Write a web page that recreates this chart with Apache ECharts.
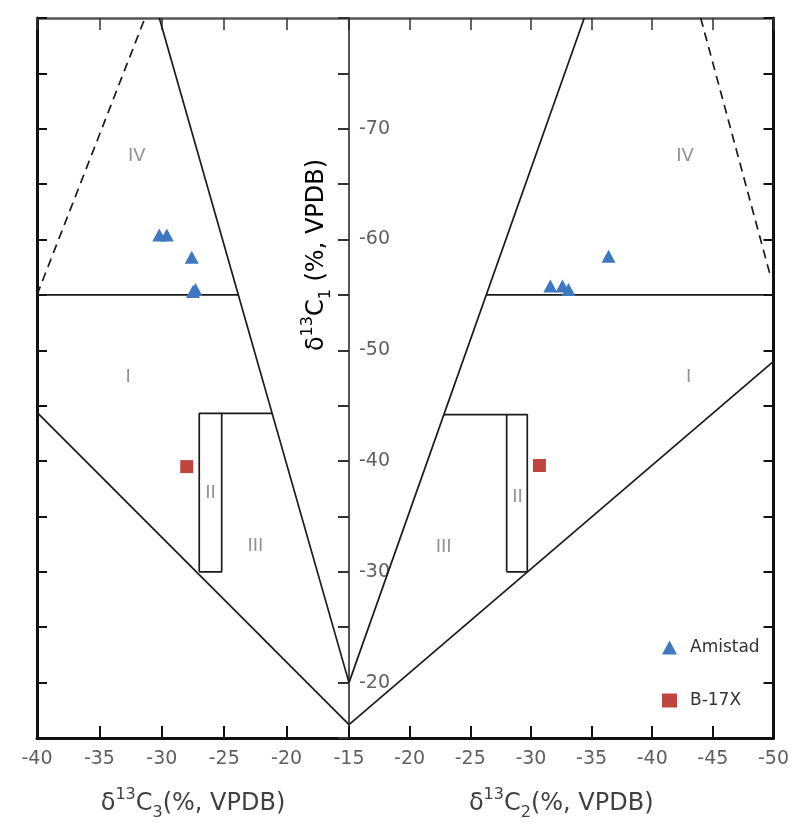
<!DOCTYPE html>
<html>
<head>
<meta charset="utf-8">
<script src="https://cdn.jsdelivr.net/npm/echarts@6/dist/echarts.min.js"></script>
<style>
  html, body { margin: 0; padding: 0; background: #fff; }
  #chart { width: 792px; height: 827px; }
</style>
</head>
<body>
<div id="chart"></div>
<script>
// Tick labels on each axis
const c3TickLabels = [-40, -35, -30, -25, -20, -15];
const c2TickLabels = [-20, -25, -30, -35, -40, -45, -50];
const c1TickLabels = [-70, -60, -50, -40, -30, -20];

// Zone boundaries, δ13C3 vs δ13C1 (left panel)
const leftUpperBound   = [[-30.2, -80], [-15, -20]];
const leftZoneIVBase   = [[-40, -55], [-23.9, -55]];
const leftZoneIVDashed = [[-40, -55], [-31.35, -80]];
const leftLowerBound   = [[-40, -44.4], [-15, -16.2]];
const leftZoneIIBox    = [[-27, -30], [-27, -44.3], [-25.2, -44.3], [-25.2, -30], [-27, -30]];
const leftZoneIITop    = [[-25.2, -44.3], [-21.15, -44.3]];

// Zone boundaries, δ13C2 vs δ13C1 (right panel)
const rightUpperBound   = [[-15, -20], [-34.4, -80]];
const rightZoneIVBase   = [[-26.3, -55], [-50, -55]];
const rightZoneIVDashed = [[-44.0, -80], [-49.75, -56.7]];
const rightLowerBound   = [[-15, -16.2], [-50, -49.0]];
const rightZoneIIBox    = [[-28, -30], [-28, -44.2], [-29.7, -44.2], [-29.7, -30], [-28, -30]];
const rightZoneIITop    = [[-22.8, -44.2], [-28, -44.2]];

// Zone names and where they sit
const zoneNames  = ['IV', 'I', 'II', 'III'];
const leftZoneX  = [-32.0, -32.7, -26.1, -22.5];
const leftZoneY  = [-67.5, -47.6, -37.1, -32.3];
const rightZoneX = [-42.7, -43.0, -28.9, -22.8];
const rightZoneY = [-67.5, -47.6, -36.7, -32.2];

// Samples
const amistadC3      = [-30.2, -29.6, -27.6, -27.5, -27.3];
const amistadC1vsC3  = [-60.4, -60.4, -58.4, -55.3, -55.5];
const amistadC2      = [-31.6, -32.6, -33.1, -36.4];
const amistadC1vsC2  = [-55.8, -55.8, -55.5, -58.5];
const b17xC3     = [-28.0];
const b17xC1vsC3 = [-39.5];
const b17xC2     = [-30.7];
const b17xC1vsC2 = [-39.6];

const FONT = 'DejaVu Sans';
const BLUE = '#3f78bf';
const RED = '#c0443f';

const pair = (xs, ys) => xs.map((x, i) => [x, ys[i]]);

const titleRich = {
  a: { fontSize: 24, fontFamily: FONT, color: '#404040', lineHeight: 34 },
  s: { fontSize: 16, fontFamily: FONT, color: '#404040', lineHeight: 24, verticalAlign: 'top' },
  b: { fontSize: 16, fontFamily: FONT, color: '#404040', lineHeight: 24, verticalAlign: 'bottom' }
};

const tickLabelStyle = { fontSize: 19, color: '#606060', fontFamily: FONT };

function boundary(data, side, dashed) {
  return {
    type: 'line',
    xAxisIndex: side === 'L' ? 0 : 2,
    yAxisIndex: side === 'L' ? 0 : 2,
    data: data,
    symbol: 'none',
    silent: true,
    z: 2,
    lineStyle: { color: '#1a1a1a', width: 1.7, type: dashed ? [9, 6] : 'solid' }
  };
}

function zoneLabels(side) {
  const xs = side === 'L' ? leftZoneX : rightZoneX;
  const ys = side === 'L' ? leftZoneY : rightZoneY;
  return {
    type: 'scatter',
    xAxisIndex: side === 'L' ? 0 : 2,
    yAxisIndex: side === 'L' ? 0 : 2,
    symbolSize: 0,
    silent: true,
    data: zoneNames.map((n, i) => ({ name: n, value: [xs[i], ys[i]] })),
    label: { show: true, position: 'inside', formatter: '{b}', fontSize: 18, color: '#777', fontFamily: FONT }
  };
}

function samples(name, xs, ys, side, symbol, size, color) {
  return {
    type: 'scatter',
    name: name,
    xAxisIndex: side === 'L' ? 0 : 2,
    yAxisIndex: side === 'L' ? 0 : 2,
    symbol: symbol,
    symbolSize: size,
    z: 5,
    itemStyle: { color: color, opacity: 1 },
    data: pair(xs, ys)
  };
}

const borderLine = { lineStyle: { color: '#111', width: 3 } };
const topLine = { lineStyle: { color: '#555', width: 2.5 } };

const yCommon = { type: 'value', min: -80, max: -15, interval: 5, inverse: true, splitLine: { show: false } };

const chart = echarts.init(document.getElementById('chart'));
chart.setOption({
  animation: false,
  backgroundColor: '#fff',
  grid: [
    { left: 37, top: 18, width: 312, height: 720 },
    { left: 349, top: 18, width: 429, height: 720 }
  ],
  xAxis: [
    {
      gridIndex: 0, type: 'value', position: 'bottom', min: -40, max: -15, interval: 5,
      splitLine: { show: false },
      axisLine: borderLine,
      axisTick: { inside: true, length: 12, lineStyle: { color: '#111', width: 2 } },
      axisLabel: Object.assign({ margin: 12, formatter: v => c3TickLabels.includes(v) ? String(v) : '' }, tickLabelStyle),
      name: '{a|δ}{s|13}{a|C}{b|3}{a|(%, VPDB)}',
      nameLocation: 'middle', nameGap: 49,
      nameTextStyle: { rich: titleRich }
    },
    {
      gridIndex: 0, type: 'value', position: 'top', min: -40, max: -15, interval: 5,
      splitLine: { show: false },
      axisLine: topLine,
      axisTick: { inside: true, length: 12, lineStyle: { color: '#333', width: 1.5 } },
      axisLabel: { show: false }
    },
    {
      gridIndex: 1, type: 'value', position: 'bottom', min: -50, max: -15, interval: 5, inverse: true,
      splitLine: { show: false },
      axisLine: borderLine,
      axisTick: { inside: true, length: 12, lineStyle: { color: '#111', width: 2 } },
      axisLabel: Object.assign({ margin: 12, formatter: v => c2TickLabels.includes(v) ? String(v) : '' }, tickLabelStyle),
      name: '{a|δ}{s|13}{a|C}{b|2}{a|(%, VPDB)}',
      nameLocation: 'middle', nameGap: 49,
      nameTextStyle: { rich: titleRich }
    },
    {
      gridIndex: 1, type: 'value', position: 'top', min: -50, max: -15, interval: 5, inverse: true,
      splitLine: { show: false },
      axisLine: topLine,
      axisTick: { inside: true, length: 12, lineStyle: { color: '#333', width: 1.5 } },
      axisLabel: { show: false }
    }
  ],
  yAxis: [
    Object.assign({}, yCommon, {
      gridIndex: 0, position: 'left',
      axisLine: borderLine,
      axisTick: { inside: true, length: 10, lineStyle: { color: '#111', width: 2 } },
      axisLabel: { show: false }
    }),
    Object.assign({}, yCommon, {
      gridIndex: 0, position: 'right',
      axisLine: { lineStyle: { color: '#555', width: 2 } },
      axisTick: { inside: true, length: 11, lineStyle: { color: '#333', width: 2 } },
      axisLabel: Object.assign({ margin: 10, formatter: v => c1TickLabels.includes(v) ? String(v) : '' }, tickLabelStyle)
    }),
    Object.assign({}, yCommon, {
      gridIndex: 1, position: 'right',
      axisLine: borderLine,
      axisTick: { inside: true, length: 10, lineStyle: { color: '#111', width: 2 } },
      axisLabel: { show: false }
    })
  ],
  legend: {
    data: ['Amistad', 'B-17X'],
    orient: 'vertical',
    left: 657, top: 634,
    itemWidth: 15, itemHeight: 14, itemGap: 36,
    textStyle: { fontSize: 17, color: '#333', fontFamily: FONT, padding: [0, 0, 0, 8] }
  },
  graphic: [
    {
      type: 'text',
      x: 317, y: 255,
      rotation: Math.PI / 2,
      silent: true,
      style: {
        text: '{a|δ}{s|13}{a|C}{b|1}{a| (%, VPDB)}',
        rich: titleRich,
        align: 'center',
        verticalAlign: 'middle'
      }
    }
  ],
  series: [
    boundary(leftUpperBound, 'L'),
    boundary(leftZoneIVBase, 'L'),
    boundary(leftZoneIVDashed, 'L', true),
    boundary(leftLowerBound, 'L'),
    boundary(leftZoneIIBox, 'L'),
    boundary(leftZoneIITop, 'L'),
    boundary(rightUpperBound, 'R'),
    boundary(rightZoneIVBase, 'R'),
    boundary(rightZoneIVDashed, 'R', true),
    boundary(rightLowerBound, 'R'),
    boundary(rightZoneIIBox, 'R'),
    boundary(rightZoneIITop, 'R'),
    zoneLabels('L'),
    zoneLabels('R'),
    samples('Amistad', amistadC3, amistadC1vsC3, 'L', 'triangle', [14, 13], BLUE),
    samples('Amistad', amistadC2, amistadC1vsC2, 'R', 'triangle', [14, 13], BLUE),
    samples('B-17X', b17xC3, b17xC1vsC3, 'L', 'rect', 13, RED),
    samples('B-17X', b17xC2, b17xC1vsC2, 'R', 'rect', 13, RED)
  ]
});
</script>
</body>
</html>
